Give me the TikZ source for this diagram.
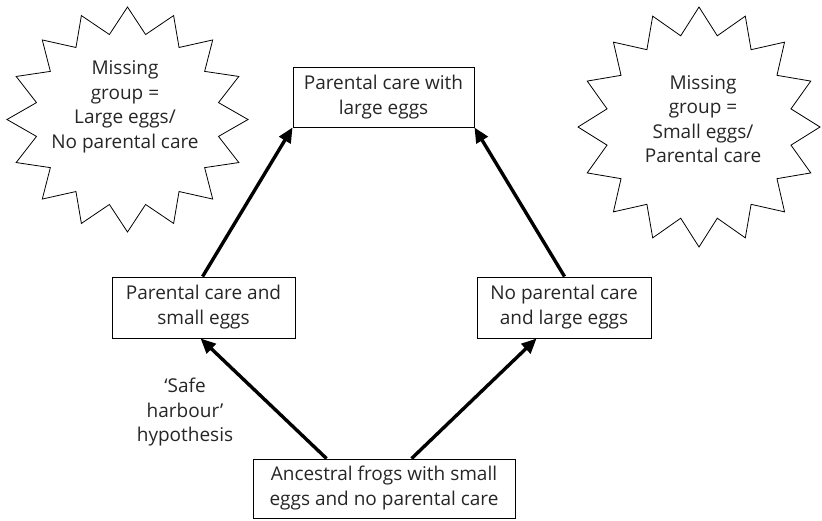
\documentclass[tikz,border=0pt]{standalone}
\usepackage{fontspec}
\setmainfont{Open Sans}
\usetikzlibrary{arrows.meta}
\tikzset{
  box/.style={draw, line width=0.9pt, inner sep=0pt, align=center, font=\fontsize{19}{25}\selectfont, text=black!85},
  lbl/.style={align=center, inner sep=0pt, font=\fontsize{19}{24.5}\selectfont, text=black!85},
  conn/.style={line width=3.4pt, -{Triangle[length=15pt,width=13pt]}},
  starline/.style={line width=0.8pt}
}
\begin{document}
\begin{tikzpicture}[x=1pt,y=-1pt]
\useasboundingbox (0,0) rectangle (822,520);
% stars
\draw[starline] plot[samples at={0,1,...,31}, variable=\k]
  ({127.5+120.5*(1-0.23*mod(\k,2))*cos(90+11.25*\k)},
   {119.5+112.5*(1-0.23*mod(\k,2))*sin(90+11.25*\k)}) -- cycle;
\draw[starline] plot[samples at={0,1,...,31}, variable=\k]
  ({699+121*(1-0.225*mod(\k,2))*cos(90+11.25*\k)},
   {127+120*(1-0.225*mod(\k,2))*sin(90+11.25*\k)}) -- cycle;
\node[lbl] (ls) at (125,107) {Missing\\group =\\Large eggs/\\No parental care};
\node[lbl] (rs) at (703,119) {Missing\\group =\\Small eggs/\\Parental care};
% boxes
\node[box, minimum width=181pt, minimum height=60pt] (top) at (383.5,97) {Parental care with\\large eggs};
\node[box, minimum width=183pt, minimum height=61pt] (lbox) at (203.5,307.5) {Parental care and\\small eggs};
\node[box, minimum width=174pt, minimum height=61pt] (rbox) at (564,307.5) {No parental care\\and large eggs};
\node[box, minimum width=262pt, minimum height=59pt] (bot) at (384,488.5) {Ancestral frogs with small\\eggs and no parental care};
\node[lbl] (safe) at (185,412.5) {`Safe\\harbour'\\hypothesis};
% connectors
\draw[conn] ([xshift=74pt]bot.north west) -- ([xshift=89pt]lbox.south west);
\draw[conn] ([xshift=159pt]bot.north west) -- ([xshift=60pt]rbox.south west);
\draw[conn] ([xshift=91pt]lbox.north west) -- (top.south west);
\draw[conn] ([xshift=88pt]rbox.north west) -- (top.south east);
\end{tikzpicture}
\end{document}
